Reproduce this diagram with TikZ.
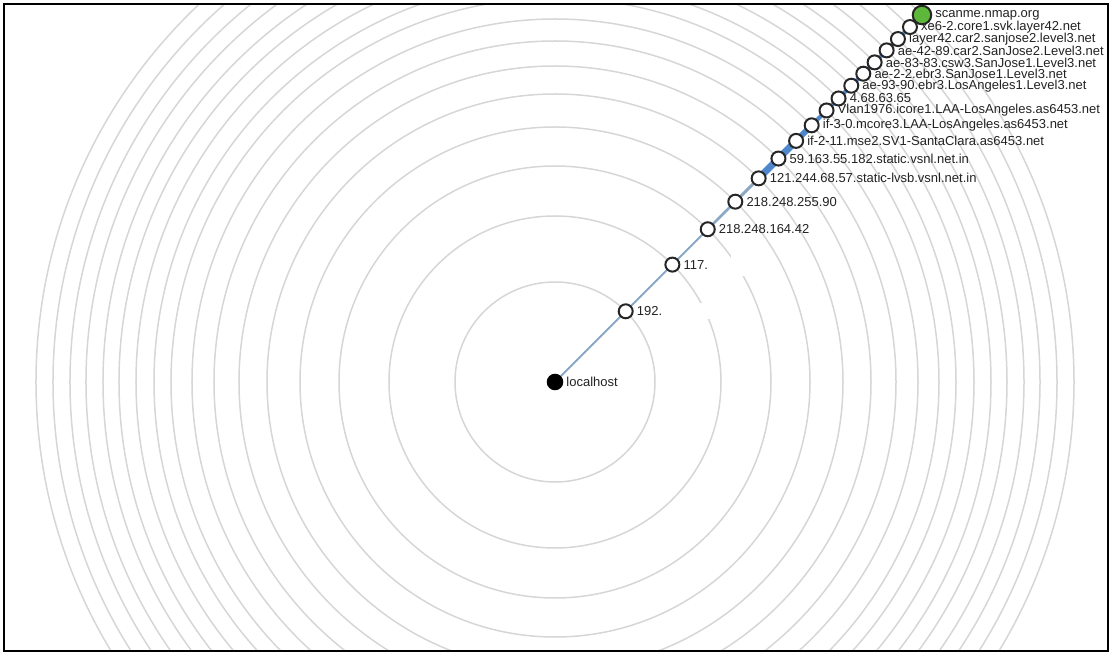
\documentclass[tikz,border=0pt]{standalone}
\usepackage{fontspec}
\setmainfont{Liberation Sans}
\usepackage{tikz}
\usetikzlibrary{positioning,backgrounds}
\definecolor{ringgray}{HTML}{D6D6D6}
\definecolor{linkthin}{HTML}{8AA8C4}
\definecolor{linkthick}{HTML}{4F87CC}
\definecolor{hopgreen}{HTML}{5DB83A}
\definecolor{labelgray}{HTML}{222222}
\tikzset{
  trace/ring/.style={draw=ringgray, line width=1.5pt},
  trace/hop/.style={draw=black!85, circle, fill=white, line width=2pt, inner sep=0pt, minimum size=14pt},
  trace/host/.style={trace/hop, fill=black, draw=black, line width=1.5pt, minimum size=15pt},
  trace/target/.style={trace/hop, fill=hopgreen, minimum size=18.5pt},
  trace/label/.style={font=\fontsize{13}{15}\selectfont, text=labelgray, inner sep=0.5pt},
  trace/link/.style={line cap=round},
  trace/frame/.style={draw=black, line width=1.2pt},
  trace/mask/.style={fill=white, draw=none}
}

\begin{document}
\begin{tikzpicture}[x=1pt, y=1pt, node distance=2.5pt]
  \useasboundingbox (-555,-276) rectangle (558,382);

  % rings, one per hop
  \begin{pgfonlayer}{background}
    \begin{scope}
      \clip (-551,-269) rectangle (553,378);
      \foreach \r in {100,166,216,255,288,316,341,363,384,401,419,436,452,469,485,502,519}
        \draw[trace/ring] (0,0) circle (\r);
      \fill[trace/mask] (109,63) rectangle (157,79);
      \fill[trace/mask] (176,106) rectangle (197,127);
    \end{scope}
  \end{pgfonlayer}

  \node[trace/host] (h0) at (0,0) {};
  \node[trace/label, right=of h0] (l0) {localhost};

  \foreach \r/\t [count=\i] in {
      100/192.,
      166/117.,
      216/218.248.164.42,
      255/218.248.255.90,
      288/121.244.68.57.static-lvsb.vsnl.net.in,
      316/59.163.55.182.static.vsnl.net.in,
      341/if-2-11.mse2.SV1-SantaClara.as6453.net,
      363/if-3-0.mcore3.LAA-LosAngeles.as6453.net,
      384/Vlan1976.icore1.LAA-LosAngeles.as6453.net,
      401/4.68.63.65,
      419/ae-93-90.ebr3.LosAngeles1.Level3.net,
      436/ae-2-2.ebr3.SanJose1.Level3.net,
      452/ae-83-83.csw3.SanJose1.Level3.net,
      469/ae-42-89.car2.SanJose2.Level3.net,
      485/layer42.car2.sanjose2.level3.net,
      502/xe6-2.core1.svk.layer42.net} {
    \node[trace/hop] (h\i) at (45:\r) {};
    \node[trace/label, right=of h\i] (l\i) {\t};
  }

  \node[trace/target] (h17) at (45:519) {};
  \node[trace/label, right=of h17] (l17) {scanme.nmap.org};

  % links between hops
  \begin{pgfonlayer}{background}
    \foreach \w/\c [count=\i] in {2/linkthin,2/linkthin,2/linkthin,2.5/linkthin,3/linkthin,
        7/linkthick,7/linkthick,6/linkthick,4/linkthick,4/linkthick,4/linkthick,4/linkthick,
        4/linkthick,4/linkthick,4/linkthick,4/linkthick,4/linkthick} {
      \pgfmathtruncatemacro{\j}{\i-1}
      \draw[trace/link, line width=\w pt, draw=\c] (h\j.center) -- (h\i.center);
    }
  \end{pgfonlayer}

  \draw[trace/frame] (-551,-269) rectangle (553,378);
\end{tikzpicture}
\end{document}
